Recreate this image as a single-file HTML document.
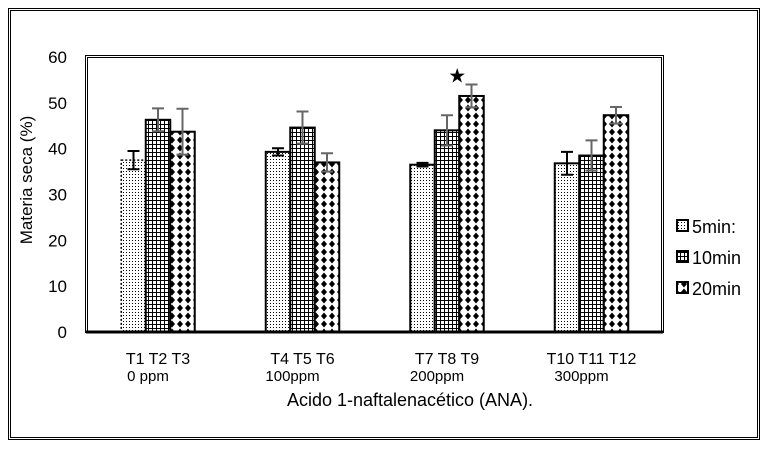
<!DOCTYPE html>
<html><head><meta charset="utf-8"><style>
body{margin:0;background:#fff;width:768px;height:448px;overflow:hidden;font-family:"Liberation Sans",sans-serif}
</style></head><body>
<svg id="c" width="768" height="448" xmlns="http://www.w3.org/2000/svg">
<defs>
<pattern id="pDot" width="3" height="3" patternUnits="userSpaceOnUse"><rect width="3" height="3" fill="#fff"/><rect width="1" height="1" fill="#000"/></pattern>
<pattern id="pGrid" width="4" height="4" patternUnits="userSpaceOnUse"><rect width="4" height="4" fill="#fff"/><rect width="4" height="1" fill="#000"/><rect width="1" height="4" fill="#000"/></pattern>
<pattern id="pDia" width="8" height="8" patternUnits="userSpaceOnUse"><rect width="8" height="8" fill="#fff"/><polygon points="4,0.5 7,4 4,7.5 1,4" fill="#000"/></pattern>
</defs>
<rect x="8.5" y="8.5" width="751" height="431" fill="none" stroke="#000"/>
<rect x="10.5" y="10.5" width="747" height="427" fill="none" stroke="#000"/>
<rect x="85.5" y="55.5" width="578" height="277" fill="none" stroke="#000"/>
<rect x="87.5" y="57.5" width="574" height="275" fill="none" stroke="#000"/>
<g id="g"></g>
<text x="32" y="180" transform="rotate(-90 32 180)" text-anchor="middle" font-size="17">Materia seca (%)</text>
<text x="410" y="406" text-anchor="middle" font-size="18">Acido 1-naftalenacético (ANA).</text>
</svg>
<script>
const groups=["T1 T2 T3","T4 T5 T6","T7 T8 T9","T10 T11 T12"];
const doses=["0 ppm","100ppm","200ppm","300ppm"];
const s5=[37.5,39.3,36.5,36.8];
const s10=[46.3,44.6,44.0,38.5];
const s20=[43.7,37.0,51.5,47.3];
const e5=[2.0,0.8,0.4,2.5];
const e10=[2.5,3.5,3.3,3.3];
const e20=[5.0,2.0,2.5,1.8];
const yTicks=[0,10,20,30,40,50,60];
const seriesNames=["5min:","10min","20min"];
const NS="http://www.w3.org/2000/svg";
const g=document.getElementById('g');
const y=v=>332-v*(275/60);
const gx=i=>158+i*144.5;
const bw=24.5;
function el(t,a){const e=document.createElementNS(NS,t);for(const k in a)e.setAttribute(k,a[k]);g.appendChild(e);return e;}
yTicks.forEach(t=>{const e=el('text',{x:67,y:y(t)+6,'text-anchor':'end','font-size':17});e.textContent=t;

});
const series=[s5,s10,s20],errs=[e5,e10,e20],fills=['url(#pDot)','url(#pGrid)','url(#pDia)'];
groups.forEach((gn,i)=>{
 series.forEach((s,k)=>{
  const x=gx(i)+(k-1.5)*bw;
  const r=el('rect',{x:x,y:y(s[i]),width:bw,height:332-y(s[i]),fill:fills[k],stroke:'#000','stroke-width':k==0&&i==0?1.5:2,'stroke-dasharray':k==0&&i==0?'2,2':'none'});
  
  
  const cx=x+bw/2,col=k==0?'#000':'#666',hi=y(s[i]+errs[k][i]),lo=y(s[i]-errs[k][i]);
  const p=el('path',{d:`M${cx},${hi}V${lo}M${cx-6},${hi}H${cx+6}M${cx-6},${lo}H${cx+6}`,stroke:col,'stroke-width':2,fill:'none'});
  
  
 });
 const t=el('text',{x:gx(i),y:364,'text-anchor':'middle','font-size':16});t.textContent=gn;
 
 
 const d=el('text',{x:gx(i)-10,y:381,'text-anchor':'middle','font-size':15});d.textContent=doses[i];
 
 
});
const ax=el('line',{x1:86,x2:663,y1:332,y2:332,stroke:'#000','stroke-width':3});


const sx=gx(2)+bw,sy=y(s20[2]+e20[2])-8;
const st=el('text',{x:sx-bw/2-2,y:sy+6,'text-anchor':'middle','font-size':20});st.textContent='★';


seriesNames.forEach((n,k)=>{
 const yy=226+k*31;
 const r=el('rect',{x:677,y:yy-6,width:11,height:11,fill:fills[k],stroke:'#000','stroke-width':2});
 
 
 const t=el('text',{x:692,y:yy+7,'font-size':18});t.textContent=n;
 
 
});
</script>
</body></html>
